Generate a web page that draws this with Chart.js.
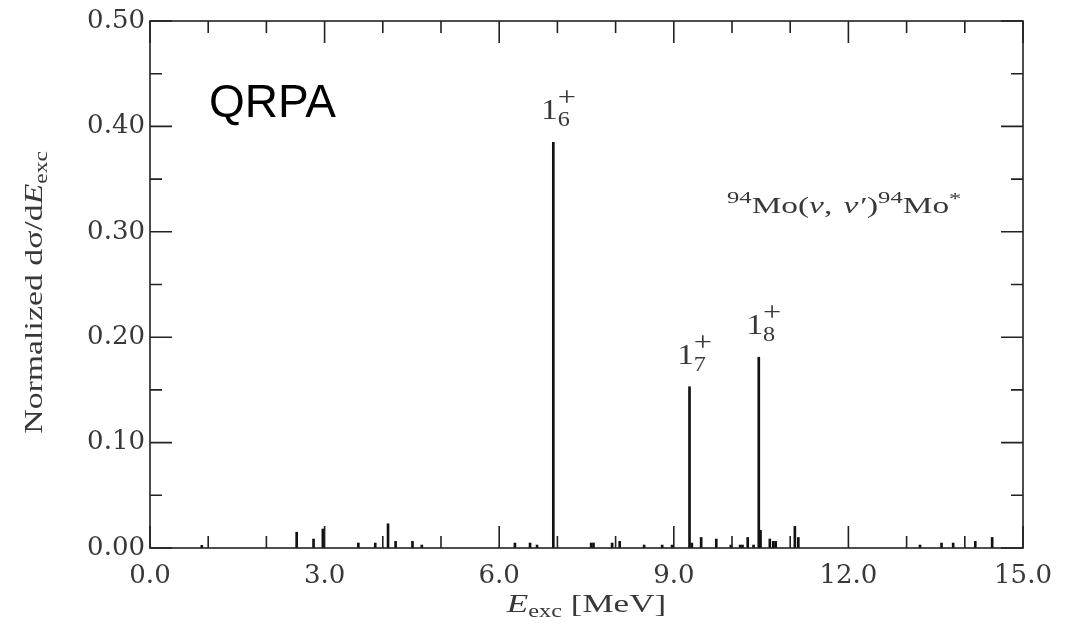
<!DOCTYPE html>
<html>
<head>
<meta charset="utf-8">
<script src="https://cdn.jsdelivr.net/npm/chart.js@4"></script>
<style>
  html, body { margin: 0; padding: 0; background: #fff; }
  #wrap { width: 1068px; height: 624px; }
</style>
</head>
<body>
<div id="wrap"><canvas id="c" width="1068" height="624"></canvas></div>
<script>
// excitation energies (MeV) and normalized cross sections
const energies = [0.89, 2.52, 2.81, 2.97, 3.58, 3.87, 4.09, 4.22, 4.51, 4.67,
  6.27, 6.53, 6.65, 6.93, 7.58, 7.62, 7.94, 8.07, 8.49, 8.80, 8.97,
  9.27, 9.31, 9.47, 9.73, 9.98, 10.14, 10.18, 10.27, 10.37, 10.46, 10.49,
  10.65, 10.71, 10.75, 11.08, 11.14, 13.23, 13.60, 13.80, 14.18, 14.47];
const sigma = [0.0025, 0.015, 0.0085, 0.018, 0.0047, 0.0047, 0.023, 0.0063, 0.0063, 0.0028,
  0.0047, 0.0047, 0.0028, 0.385, 0.0047, 0.0047, 0.0047, 0.0063, 0.0028, 0.0028, 0.0028,
  0.153, 0.0047, 0.010, 0.0085, 0.0028, 0.0028, 0.0028, 0.010, 0.0028, 0.181, 0.0168,
  0.0085, 0.0063, 0.0063, 0.0205, 0.010, 0.0028, 0.0047, 0.0047, 0.0063, 0.010];

// labelled states
const stateNames = ['6', '7', '8'];
const stateEnergies = [6.93, 9.27, 10.46];
const stateValues = [0.385, 0.153, 0.181];

// axis ticks
const xMajor = [0, 3, 6, 9, 12, 15];
const xMinor = [1, 2, 4, 5, 7, 8, 10, 11, 13, 14];
const yMajor = [0, 0.1, 0.2, 0.3, 0.4, 0.5];
const yMinor = [0.05, 0.15, 0.25, 0.35, 0.45];

const serif = '"Liberation Serif", "DejaVu Serif", serif';
const tickFont = '"DejaVu Serif", serif';
const ink = '#222';
const textInk = '#383838';

// draw a run of text pieces {t, size, dy, italic, stack}, stretched by sx
function drawRich(ctx, parts, x, y, align, sx) {
  sx = sx || 1;
  let total = 0;
  const widths = parts.map(p => {
    ctx.font = (p.italic ? 'italic ' : '') + p.size + 'px ' + serif;
    return ctx.measureText(p.t).width + (p.gap || 0);
  });
  parts.forEach((p, i) => { if (!p.stack) total += widths[i]; });
  ctx.save();
  ctx.translate(x, y);
  ctx.scale(sx, 1);
  let cx = align === 'center' ? -total / 2 : 0;
  let prevX = cx;
  parts.forEach((p, i) => {
    ctx.font = (p.italic ? 'italic ' : '') + p.size + 'px ' + serif;
    const px = p.stack ? prevX : cx;
    ctx.fillText(p.t, px, p.dy || 0);
    if (!p.stack) { prevX = cx; cx += widths[i]; }
  });
  ctx.restore();
}

const decor = {
  id: 'decor',
  afterDraw(chart) {
    const { ctx, chartArea: a, scales: { x, y } } = chart;
    ctx.save();
    ctx.strokeStyle = ink;
    ctx.lineWidth = 1.6;
    ctx.strokeRect(a.left, a.top, a.right - a.left, a.bottom - a.top);
    ctx.beginPath();
    const xt = (v, len) => {
      const px = x.getPixelForValue(v);
      ctx.moveTo(px, a.bottom); ctx.lineTo(px, a.bottom - len);
      ctx.moveTo(px, a.top); ctx.lineTo(px, a.top + len);
    };
    const yt = (v, len) => {
      const py = y.getPixelForValue(v);
      ctx.moveTo(a.left, py); ctx.lineTo(a.left + len, py);
      ctx.moveTo(a.right, py); ctx.lineTo(a.right - len, py);
    };
    xMajor.forEach(v => xt(v, 22));
    xMinor.forEach(v => xt(v, 12));
    yMajor.forEach(v => yt(v, 22));
    yMinor.forEach(v => yt(v, 12));
    ctx.stroke();

    ctx.fillStyle = textInk;
    ctx.textBaseline = 'alphabetic';
    ctx.textAlign = 'left';

    // state labels above the spikes
    stateNames.forEach((n, i) => {
      const px = x.getPixelForValue(stateEnergies[i]);
      const py = y.getPixelForValue(stateValues[i]) - 23;
      drawRich(ctx, [
        { t: '1', size: 29 },
        { t: n, size: 21, dy: 7 },
        { t: '+', size: 28, dy: -13, stack: true }
      ], px + 2, py, 'center', 1.15);
    });

    // reaction label
    drawRich(ctx, [
      { t: '94', size: 17, dy: -10 },
      { t: 'Mo(', size: 23 },
      { t: '\u03BD', size: 23, italic: true },
      { t: ', ', size: 23, gap: 2 },
      { t: '\u03BD\u2032', size: 23, italic: true, gap: 1 },
      { t: ')', size: 23 },
      { t: '94', size: 17, dy: -10 },
      { t: 'Mo', size: 23 },
      { t: '*', size: 17, dy: -9 }
    ], 727, 213, 'left', 1.45);

    // QRPA tag
    ctx.font = '46px "Liberation Sans", Arial, sans-serif';
    ctx.fillStyle = '#000';
    ctx.fillText('QRPA', 209, 117);

    // x title
    ctx.fillStyle = textInk;
    drawRich(ctx, [
      { t: 'E', size: 26, italic: true },
      { t: 'exc', size: 18, dy: 5 },
      { t: ' [MeV]', size: 26 }
    ], (a.left + a.right) / 2, 612, 'center', 1.35);

    // y title
    ctx.translate(42, (a.top + a.bottom) / 2 + 8);
    ctx.rotate(-Math.PI / 2);
    drawRich(ctx, [
      { t: 'Normalized d\u03C3/d', size: 26 },
      { t: 'E', size: 26, italic: true },
      { t: 'exc', size: 18, dy: 5 }
    ], 0, 0, 'center', 1.3);
    ctx.restore();
  }
};

new Chart(document.getElementById('c'), {
  type: 'bar',
  data: {
    datasets: [{
      data: energies.map((e, i) => ({ x: e, y: sigma[i] })),
      backgroundColor: '#111',
      barThickness: 2,
      borderWidth: 0
    }]
  },
  options: {
    responsive: false,
    animation: false,
    layout: { padding: { left: 0, top: 21, right: 45, bottom: 0 } },
    plugins: { legend: { display: false }, tooltip: { enabled: false } },
    scales: {
      x: {
        type: 'linear', min: 0, max: 15, offset: false,
        grid: { display: false, drawTicks: false },
        border: { display: false },
        ticks: {
          stepSize: 3, padding: 13, color: textInk, maxRotation: 0,
          font: { family: tickFont, size: 26 },
          callback: v => v.toFixed(1)
        },
        afterFit: s => { s.height = 76; }
      },
      y: {
        min: 0, max: 0.5,
        grid: { display: false, drawTicks: false },
        border: { display: false },
        ticks: {
          stepSize: 0.1, padding: 5, color: textInk,
          font: { family: tickFont, size: 26 },
          callback: v => v.toFixed(2)
        },
        afterFit: s => { s.width = 150; }
      }
    }
  },
  plugins: [decor]
});
</script>
</body>
</html>
